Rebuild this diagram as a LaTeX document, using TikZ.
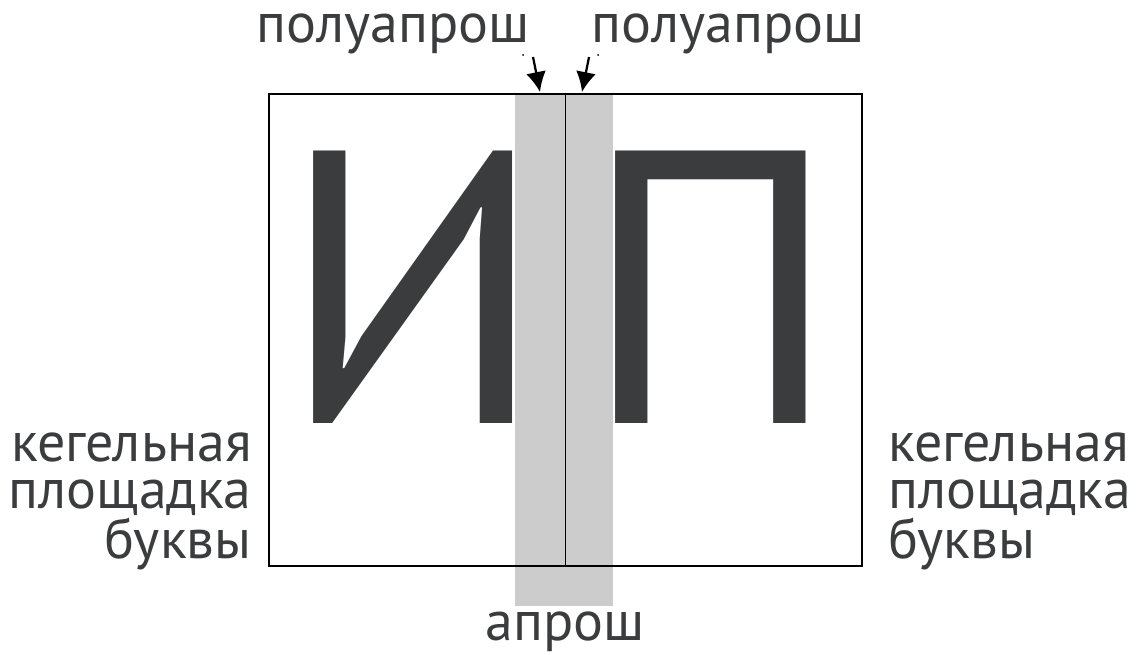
\documentclass[tikz,border=0pt]{standalone}
\usepackage{fontspec}
\setmainfont{PT Sans}
\usetikzlibrary{arrows.meta}
\definecolor{ink}{HTML}{3B3C3E}
\definecolor{band}{HTML}{CCCCCC}
\begin{document}
\begin{tikzpicture}[x=0.75pt,y=-0.75pt,
  lbl/.style={text=ink,inner sep=0pt,font=\fontsize{42}{35.25}\selectfont},
  big/.style={text=ink,inner sep=0pt,anchor=base,font=\fontsize{292}{300}\selectfont},
  ptr/.style={-{Latex[length=15pt,width=15pt]},line width=1.7pt}]
\useasboundingbox (0,0) rectangle (1141,654);
% letters and the band over them
\node[big] (i) at (413,423) {И};
\node[big] (p) at (711,423) {П};
\fill[band] (515,94) rectangle (613,606);
\node[draw,line width=1.1pt,minimum width=444.75pt,minimum height=354pt] (box) at (565.5,330) {};
\draw[line width=1.1pt] (box.north) -- (box.south);
% half spaces
\foreach \k/\x/\u in {1/533/540, 2/589/582} {
  \coordinate (s\k) at (\x,57);
  \coordinate (t\k) at (\u,92);
  \draw[ptr] (s\k) -- (t\k);
}
\fill (523,55) circle (1);
\fill (598,55) circle (1);
\node[lbl,anchor=base] (hl) at (393,42) {полуапрош};
\node[lbl,anchor=base] (hr) at (728,42) {полуапрош};
\node[lbl,anchor=base] (ap) at (565,640) {апрош};
\node[lbl,align=right,anchor=base east] (kl) at (252,558) {кегельная\\площадка\\буквы};
\node[lbl,align=left,anchor=base west] (kr) at (888,558) {кегельная\\площадка\\буквы};
\end{tikzpicture}
\end{document}
